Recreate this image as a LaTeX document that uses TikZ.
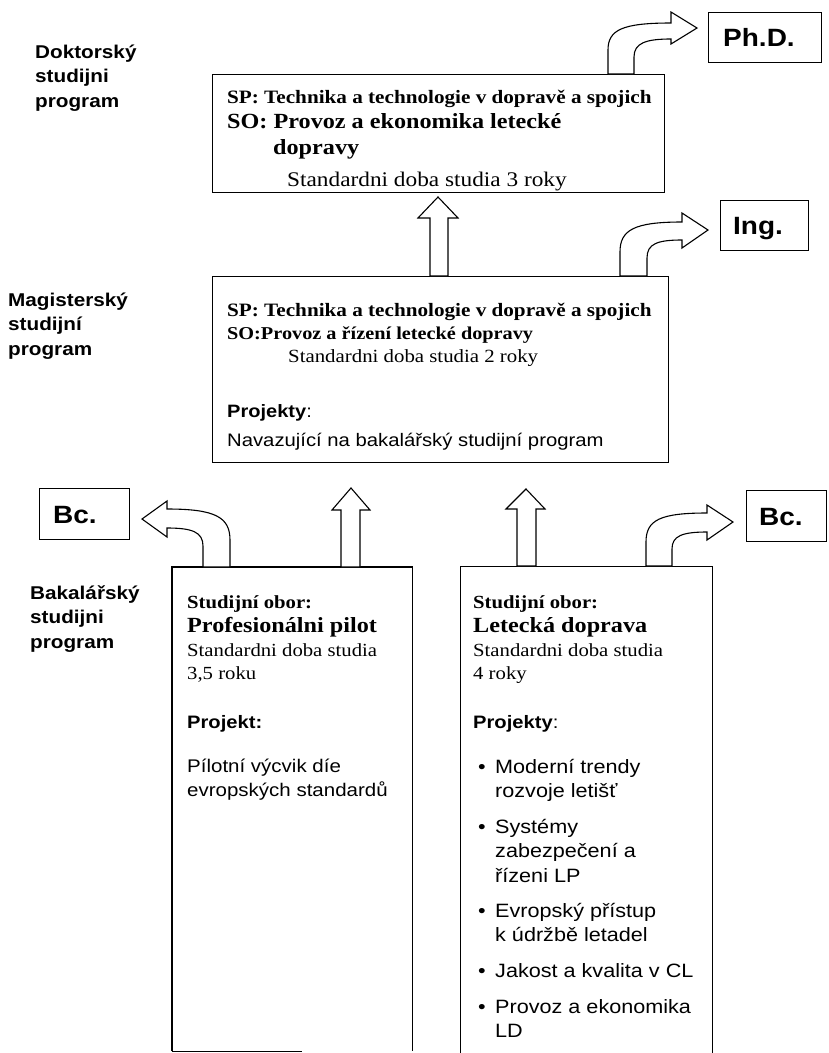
\documentclass[tikz,border=0pt]{standalone}
\usepackage{fontspec}
\setmainfont{Liberation Serif}[FakeStretch=1.12]
\newfontfamily\sansf{Liberation Sans}[FakeStretch=1.12]
\usetikzlibrary{calc}
\begin{document}
\begin{tikzpicture}[x=1pt,y=-1pt,
  frame/.style={draw, line width=1.1pt, rectangle, anchor=north west, inner sep=0pt},
  blank/.style={rectangle, anchor=north west, inner sep=0pt},
  edge/.style={line width=1.1pt},
  blockarrow/.style={draw=black, fill=white, line width=1.1pt, line join=miter},
  tx/.style={anchor=base west, inner sep=0pt, align=left},
  sr/.style 2 args={tx, font=\fontsize{#1}{#2}\selectfont},
  sb/.style 2 args={tx, font=\bfseries\fontsize{#1}{#2}\selectfont},
  ss/.style 2 args={tx, font=\sansf\fontsize{#1}{#2}\selectfont},
  ssb/.style 2 args={tx, font=\sansf\bfseries\fontsize{#1}{#2}\selectfont},
  deg/.style={ssb={25}{30}}
]
\useasboundingbox (0,0) rectangle (828,1053);
\clip (0,0) rectangle (828,1053);

% ---------- boxes ----------
\node[frame, minimum width=452pt, minimum height=118pt] (dok) at (212,74) {};
\node[frame, minimum width=456pt, minimum height=186pt] (mag) at (212,276) {};
\node[frame, minimum width=113pt, minimum height=50pt] (phd) at (708,12) {};
\node[frame, minimum width=88pt, minimum height=50pt] (ing) at (720,200) {};
\node[frame, minimum width=90pt, minimum height=51pt] (bcl) at (39,488) {};
\node[frame, minimum width=80pt, minimum height=51pt] (bcr) at (746,490) {};
\node[blank, minimum width=240pt, minimum height=484pt] (pil) at (172,567) {};
\draw[edge] (pil.south west) -- (pil.north west) -- (pil.north east) -- (pil.south east);
\draw[edge] (pil.south west) -- ++(130,0);
\node[frame, minimum width=252pt, minimum height=500pt] (led) at (460,566) {};

% ---------- degree labels ----------
\node[deg] (tphd) at ($(phd.west)+(15,9)$) {Ph.D.};
\node[deg] (ting) at ($(ing.west)+(13,9)$) {Ing.};
\node[deg] (tbcl) at ($(bcl.west)+(14,9)$) {Bc.};
\node[deg] (tbcr) at ($(bcr.west)+(13,9)$) {Bc.};

% ---------- block arrows ----------
% to Ph.D.
\draw[blockarrow] (608,74) -- (608,50) .. controls (608,30) and (622,23) .. (671,23)
  -- (671,12) -- (697,28) -- (671,44) -- (671,39)
  .. controls (646,39) and (634,43) .. (634,57) -- (634,74) -- cycle;
% to Ing.
\draw[blockarrow] (620,276) -- (620,252) .. controls (620,230) and (634,222) .. (682,222)
  -- (682,213) -- (708,230) -- (682,248) -- (682,240)
  .. controls (657,240) and (647,244) .. (647,258) -- (647,276) -- cycle;
% to right Bc.
\draw[blockarrow] (646,566) -- (646,542) .. controls (646,520) and (660,513) .. (707,513)
  -- (707,505) -- (733,522) -- (707,540) -- (707,532)
  .. controls (682,532) and (672,536) .. (672,549) -- (672,566) -- cycle;
% to left Bc.
\draw[blockarrow] (230,567) -- (230,540) .. controls (230,517) and (215,509) .. (167,509)
  -- (167,501) -- (142,519) -- (167,537) -- (167,528)
  .. controls (192,528) and (203,532) .. (203,546) -- (203,567) -- cycle;
% mag -> dok
\draw[blockarrow] (430,276) -- (430,218) -- (418,218) -- (438,197) -- (458,218) -- (448,218) -- (448,276) -- cycle;
% pil -> mag
\draw[blockarrow] (341,567) -- (341,510) -- (332,510) -- (351,488) -- (370,510) -- (360,510) -- (360,567) -- cycle;
% led -> mag
\draw[blockarrow] (517,566) -- (517,509) -- (506,509) -- (526,489) -- (545,509) -- (536,509) -- (536,566) -- cycle;

% ---------- left labels (anchor = baseline of last line) ----------
\node[ssb={18.5}{24.5}] (ldok) at (35,107) {Doktorský\\studijni\\program};
\node[ssb={18.5}{24.5}] (lmag) at (8,355) {Magisterský\\studijní\\program};
\node[ssb={18.5}{24.5}] (lbak) at (30,648) {Bakalářský\\studijni\\program};

% ---------- doctoral box text ----------
\node[sb={18.9}{23}] (d1) at (227,103) {SP: Technika a technologie v dopravě a spojich};
\node[sb={21.6}{26}] (d2) at (227,128) {SO: Provoz a ekonomika letecké};
\node[sb={21.6}{26}] (d3) at (273,154) {dopravy};
\node[sr={20.8}{24}] (d4) at (287,186) {Standardni doba studia 3 roky};

% ---------- master box text ----------
\node[sb={18.9}{23}] (m1) at (227,316) {SP: Technika a technologie v dopravě a spojich};
\node[sb={18.1}{22}] (m2) at (227,339) {SO:Provoz a řízení letecké dopravy};
\node[sr={18.6}{22}] (m3) at (288,362) {Standardni doba studia 2 roky};
\node[ss={17.9}{22}] (m4) at (227,417) {\bfseries Projekty\mdseries:};
\node[ss={18.1}{22}] (m5) at (227,446) {Navazující na bakalářský studijní program};

% ---------- pilot box text ----------
\node[sb={18.5}{23}] (p1) at (187,608) {Studijní obor:};
\node[sb={21.6}{26}] (p2) at (187,632) {Profesionálni pilot};
\node[sr={18.5}{23.5}] (p3) at (187,679.5) {Standardni doba studia\\3,5 roku};
\node[ssb={18}{22}] (p4) at (187,728) {Projekt:};
\node[ss={18.3}{24}] (p5) at (187,796) {Pílotní výcvik díe\\evropských standardů};

% ---------- air transport box text ----------
\node[sb={18.5}{23}] (l1) at (473,608) {Studijní obor:};
\node[sb={21.6}{26}] (l2) at (473,632) {Letecká doprava};
\node[sr={18.5}{23.5}] (l3) at (473,679.5) {Standardni doba studia\\4 roky};
\node[ss={18}{22}] (l4) at (473,728) {\bfseries Projekty\mdseries:};
\node[ss={19.3}{24.5}] (b1) at (478,773) {•};
\node[ss={19.3}{24.5}] (i1) at (495,797.5) {Moderní trendy\\rozvoje letišť};
\node[ss={19.3}{24.5}] (b2) at (478,833) {•};
\node[ss={19.3}{24.5}] (i2) at (495,882) {Systémy\\zabezpečení a\\řízeni LP};
\node[ss={19.3}{24.5}] (b3) at (478,917) {•};
\node[ss={19.3}{24.5}] (i3) at (495,941.5) {Evropský přístup\\k údržbě letadel};
\node[ss={19.3}{24.5}] (b4) at (478,977) {•};
\node[ss={19.3}{24.5}] (i4) at (495,977) {Jakost a kvalita v CL};
\node[ss={19.3}{24.5}] (b5) at (478,1013) {•};
\node[ss={19.3}{24.5}] (i5) at (495,1037.5) {Provoz a ekonomika\\LD};
\end{tikzpicture}
\end{document}
